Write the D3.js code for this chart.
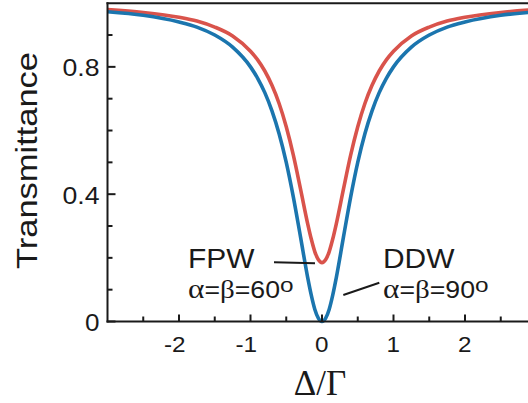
<!DOCTYPE html>
<html>
<head>
<meta charset="utf-8">
<script src="https://cdn.jsdelivr.net/npm/d3@7"></script>
<style>
  html, body { margin: 0; padding: 0; background: #fff; }
  svg { display: block; }
  text { font-family: "Liberation Sans", Arial, Helvetica, sans-serif; fill: #1a1a1a; }
  .serif { font-family: "Liberation Serif", "Times New Roman", serif; }
</style>
</head>
<body>
<svg id="chart" width="528" height="403"></svg>
<script>
// ---- data ----
const detuning = [-3, -2.5, -2, -1.75, -1.5, -1.25, -1, -0.9, -0.8, -0.7, -0.6, -0.5, -0.4, -0.3, -0.2, -0.15, -0.1, -0.05, 0,
                  0.05, 0.1, 0.15, 0.2, 0.3, 0.4, 0.5, 0.6, 0.7, 0.8, 0.9, 1, 1.25, 1.5, 1.75, 2, 2.5, 3];
const ddwT = [0.973, 0.962, 0.941, 0.925, 0.900, 0.862, 0.800, 0.764, 0.719, 0.662, 0.590, 0.500, 0.390, 0.265, 0.138, 0.083, 0.038, 0.010, 0.000,
              0.010, 0.038, 0.083, 0.138, 0.265, 0.390, 0.500, 0.590, 0.662, 0.719, 0.764, 0.800, 0.862, 0.900, 0.925, 0.941, 0.962, 0.973];
const fpwT = [0.980, 0.971, 0.956, 0.944, 0.925, 0.897, 0.849, 0.822, 0.787, 0.742, 0.685, 0.612, 0.522, 0.416, 0.307, 0.259, 0.219, 0.194, 0.185,
              0.194, 0.219, 0.259, 0.307, 0.416, 0.522, 0.612, 0.685, 0.742, 0.787, 0.822, 0.849, 0.897, 0.925, 0.944, 0.956, 0.971, 0.980];
const xMajorTicks = [-2, -1, 0, 1, 2];
const xMinorTicks = [-2.5, -1.5, -0.5, 0.5, 1.5, 2.5];
const yMajorTicks = [0, 0.4, 0.8];
const yTickLabels = ["0", "0.4", "0.8"];
const yMinorTicks = [0.1, 0.2, 0.3, 0.5, 0.6, 0.7, 0.9];

const svg = d3.select("#chart");
const x = d3.scaleLinear().domain([-3, 3]).range([107.5, 536.5]);
const y = d3.scaleLinear().domain([0, 1]).range([321.5, 3.2]);

const ink = "#1a1a1a";

// curves
svg.append("clipPath").attr("id", "plotclip")
  .append("rect").attr("x", x(-3)).attr("y", 0).attr("width", 600).attr("height", y(0) + 4);

const line = (vals) => d3.line()
  .x((d, i) => x(detuning[i]))
  .y((d) => y(d))
  .curve(d3.curveMonotoneX)(vals);

const g = svg.append("g").attr("clip-path", "url(#plotclip)");
g.append("path").attr("d", line(fpwT)).attr("fill", "none")
  .attr("stroke", "#d9534b").attr("stroke-width", 3.6).attr("stroke-linejoin", "round");
g.append("path").attr("d", line(ddwT)).attr("fill", "none")
  .attr("stroke", "#1b75ae").attr("stroke-width", 3.6).attr("stroke-linejoin", "round");

// axes
const yAxis = svg.append("g");
yAxis.append("line").attr("x1", x(-3)).attr("x2", x(-3)).attr("y1", y(1) - 1).attr("y2", y(0) + 1)
  .attr("stroke", ink).attr("stroke-width", 2);
yMajorTicks.forEach((t, i) => {
  yAxis.append("line").attr("x1", x(-3)).attr("x2", x(-3) + 8).attr("y1", y(t)).attr("y2", y(t))
    .attr("stroke", ink).attr("stroke-width", 2);
  yAxis.append("text").attr("x", 99.5).attr("y", y(t) + 9.5).attr("text-anchor", "end")
    .attr("font-size", 23)
    .attr("textLength", yTickLabels[i].length === 1 ? 14.5 : 37).attr("lengthAdjust", "spacingAndGlyphs")
    .text(yTickLabels[i]);
});
yMinorTicks.forEach(t => {
  yAxis.append("line").attr("x1", x(-3)).attr("x2", x(-3) + 5).attr("y1", y(t)).attr("y2", y(t))
    .attr("stroke", ink).attr("stroke-width", 2);
});

const xAxis = svg.append("g");
xAxis.append("line").attr("x1", x(-3) - 1).attr("x2", 528).attr("y1", y(0)).attr("y2", y(0))
  .attr("stroke", ink).attr("stroke-width", 2);
xMajorTicks.forEach(t => {
  xAxis.append("line").attr("x1", x(t)).attr("x2", x(t)).attr("y1", y(0)).attr("y2", y(0) - 7)
    .attr("stroke", ink).attr("stroke-width", 2);
  const lbl = t < 0 ? "-" + Math.abs(t) : String(t);
  xAxis.append("text").attr("x", x(t) + 6.5).attr("y", y(0) + 30).attr("text-anchor", "end")
    .attr("font-size", 22)
    .attr("textLength", lbl.length === 1 ? 13.5 : 21.6).attr("lengthAdjust", "spacingAndGlyphs")
    .text(lbl);
});
xMinorTicks.forEach(t => {
  xAxis.append("line").attr("x1", x(t)).attr("x2", x(t)).attr("y1", y(0)).attr("y2", y(0) - 5)
    .attr("stroke", ink).attr("stroke-width", 2);
});

// top frame
svg.append("line").attr("x1", x(-3) - 1).attr("x2", 528).attr("y1", y(1)).attr("y2", y(1))
  .attr("stroke", ink).attr("stroke-width", 2);

// axis titles
svg.append("text").attr("transform", "translate(37,160.5) rotate(-90)")
  .attr("text-anchor", "middle").attr("font-size", 30)
  .attr("textLength", 217).attr("lengthAdjust", "spacingAndGlyphs").text("Transmittance");

svg.append("text").attr("class", "serif").attr("x", 320).attr("y", 395)
  .attr("text-anchor", "middle").attr("font-size", 35).text("Δ/Γ");

// annotations
function label(xp, name, angleText) {
  svg.append("text").attr("x", xp).attr("y", 268.3).attr("font-size", 28)
    .attr("textLength", name === "FPW" ? 66.5 : 71.5).attr("lengthAdjust", "spacingAndGlyphs").text(name);
  const t = svg.append("text").attr("transform", `translate(${xp},298.3) scale(1.16,1)`).attr("font-size", 23);
  t.append("tspan").attr("class", "serif").attr("font-size", 27).text("α");
  t.append("tspan").text("=");
  t.append("tspan").attr("class", "serif").attr("font-size", 25).text("β");
  t.append("tspan").text("=" + angleText);
  t.append("tspan").attr("font-size", 21).attr("dy", -6).text("o");
}
label(188, "FPW", "60");
label(383, "DDW", "90");

svg.append("line").attr("x1", 274).attr("y1", 262.3).attr("x2", 315).attr("y2", 263.3)
  .attr("stroke", ink).attr("stroke-width", 2);
svg.append("line").attr("x1", 343.3).attr("y1", 295).attr("x2", 379.3).attr("y2", 282.7)
  .attr("stroke", ink).attr("stroke-width", 2);
</script>
</body>
</html>
